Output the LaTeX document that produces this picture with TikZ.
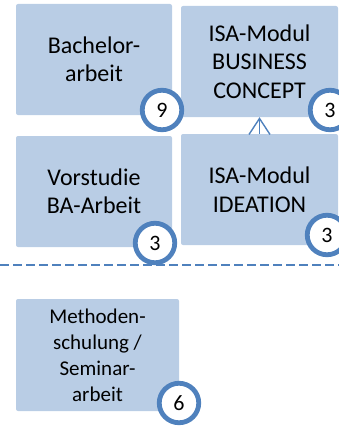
\documentclass[tikz,border=0pt]{standalone}
\usepackage{fontspec}
\setmainfont{Carlito}
\usetikzlibrary{arrows.meta}
\definecolor{boxfill}{HTML}{B9CDE5}
\definecolor{accent}{HTML}{4F81BD}
\tikzset{
  modbox/.style={fill=boxfill, rounded corners=2pt, inner sep=0pt, align=center, text=black},
  bigbox/.style={modbox, minimum width=156pt, minimum height=111pt, font=\fontsize{24}{28.5}\selectfont},
  credit/.style={circle, draw=accent, line width=4.8pt, fill=white, minimum size=39.5pt, inner sep=0pt, font=\fontsize{22}{24}\selectfont},
  linkarrow/.style={draw=accent, line width=1.4pt, -{Straight Barb[length=16pt,width=21pt]}},
  divider/.style={draw=accent, line width=1.6pt, dash pattern=on 9pt off 4pt}
}
\begin{document}
\begin{tikzpicture}[x=1pt,y=-1pt]
\useasboundingbox (0,0) rectangle (339,428);
\node[bigbox] (ba) at (94,59.5) {Bachelor-\\arbeit};
\node[bigbox, minimum width=157pt] (bc) at (259.5,61.5) {ISA-Modul\\BUSINESS\\CONCEPT};
\node[bigbox] (vs) at (94,191.5) {Vorstudie\\BA-Arbeit};
\node[bigbox, minimum width=157pt] (id) at (259.5,189.5) {ISA-Modul\\IDEATION};
\node[modbox, minimum width=163pt, minimum height=112pt, font=\fontsize{21}{26}\selectfont] (ms) at (97.5,355) {Methoden-\\schulung /\\Seminar-\\arbeit};
\draw[linkarrow] (id.north) -- (bc.south);
\coordinate (dl) at (0,265);
\coordinate (dr) at (339,265);
\draw[divider] (dl) -- (dr);
\node[credit] (c9) at (162,110) {9};
\node[credit] (c3a) at (330,110) {3};
\node[credit] (c3b) at (155,243) {3};
\node[credit] (c3c) at (327,235) {3};
\node[credit] (c6) at (179,403) {6};
\end{tikzpicture}
\end{document}
